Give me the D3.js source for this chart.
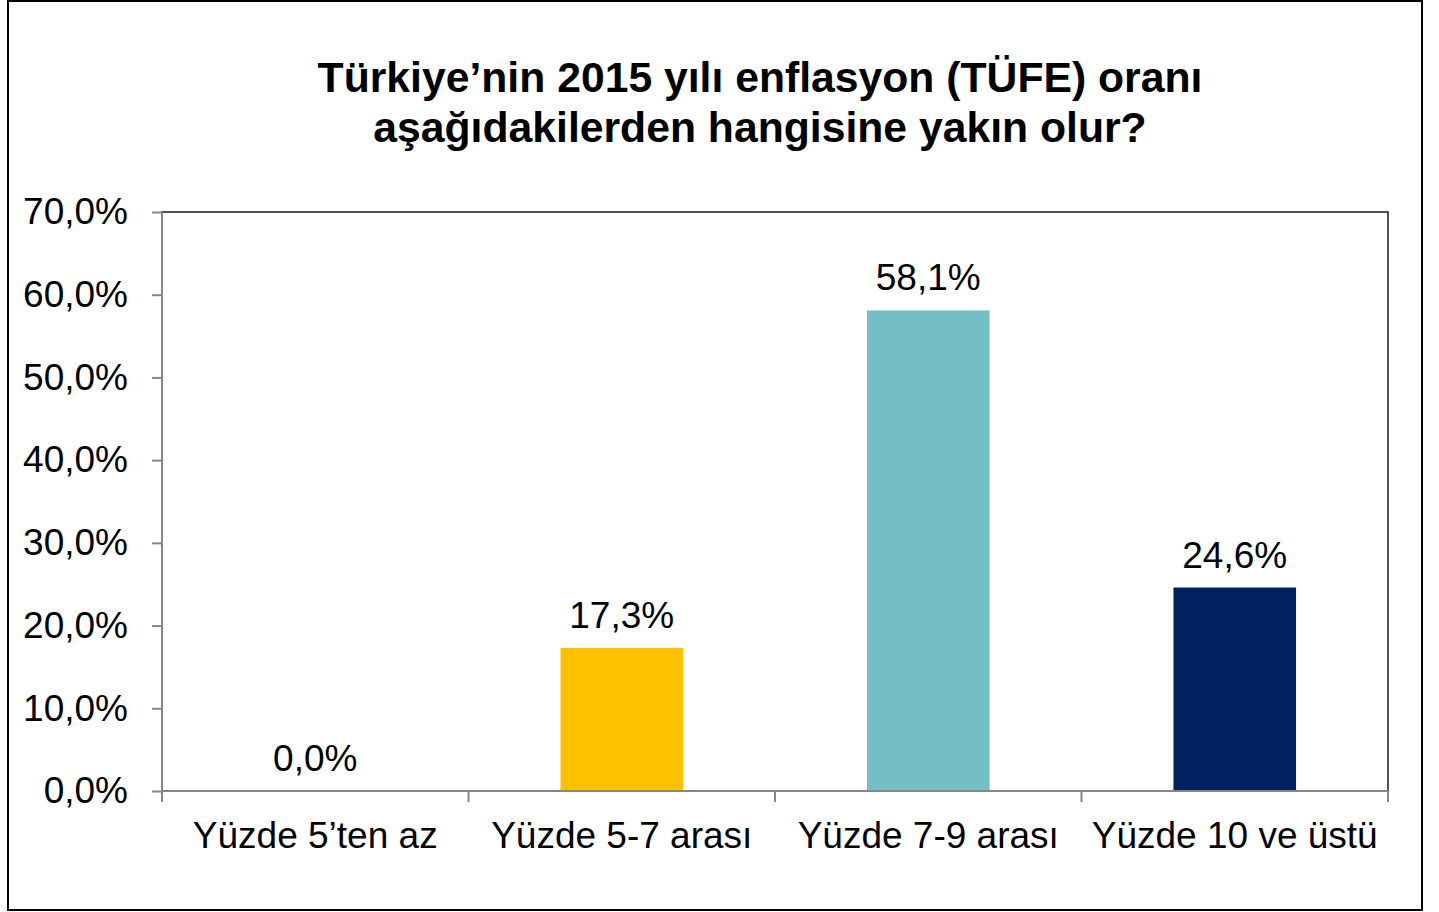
<!DOCTYPE html>
<html>
<head>
<meta charset="utf-8">
<script src="https://cdn.jsdelivr.net/npm/d3@7"></script>
<style>
  body { margin: 0; background: #fff; }
  svg { display: block; font-family: "Liberation Sans", Arial, sans-serif; }
</style>
</head>
<body>
<div id="chart"></div>
<script>
// data
var titleLines = ["Türkiye’nin 2015 yılı enflasyon (TÜFE) oranı", "aşağıdakilerden hangisine yakın olur?"];
var categories = ["Yüzde 5’ten az", "Yüzde 5-7 arası", "Yüzde 7-9 arası", "Yüzde 10 ve üstü"];
var values = [0.0, 17.3, 58.1, 24.6];
var barColors = ["#4472C4", "#FFC000", "#73BFC5", "#002060"];
var yTicks = [0, 10, 20, 30, 40, 50, 60, 70];

var W = 1439, H = 912;
// plot area
var margin = {top: 212, right: 51, bottom: 121, left: 162};
var width = W - margin.left - margin.right,
    height = H - margin.top - margin.bottom;

var fmt = function(v) { return v.toFixed(1).replace(".", ",") + "%"; };

var svg = d3.select("#chart").append("svg")
  .attr("width", W)
  .attr("height", H);

// outer chart border
svg.append("rect")
  .attr("x", 8).attr("y", 1)
  .attr("width", 1414).attr("height", 909)
  .attr("fill", "none")
  .attr("stroke", "#000")
  .attr("stroke-width", 2);

// title
svg.append("text")
  .attr("x", 760)
  .attr("y", 92)
  .attr("text-anchor", "middle")
  .attr("font-weight", "bold")
  .attr("font-size", "42.7px")
  .selectAll("tspan")
  .data(titleLines)
  .enter().append("tspan")
  .attr("x", 760)
  .attr("dy", function(d, i) { return i ? 50 : 0; })
  .text(function(d) { return d; });

var g = svg.append("g")
  .attr("transform", "translate(" + margin.left + "," + margin.top + ")");

var x = d3.scaleBand().domain(categories).range([0, width]).padding(0);
var y = d3.scaleLinear().domain([0, 70]).range([height, 0]);

// plot area border
g.append("rect")
  .attr("width", width)
  .attr("height", height)
  .attr("fill", "none")
  .attr("stroke", "#1a1a1a")
  .attr("stroke-width", 1.5);

// bars (gap width 150%)
var barW = x.bandwidth() * 0.4;
g.selectAll(".bar")
  .data(values)
  .enter().append("rect")
  .attr("class", "bar")
  .attr("x", function(d, i) { return x(categories[i]) + (x.bandwidth() - barW) / 2; })
  .attr("y", function(d) { return y(d); })
  .attr("width", barW)
  .attr("height", function(d) { return height - y(d); })
  .attr("fill", function(d, i) { return barColors[i]; });

// data labels
g.selectAll(".lbl")
  .data(values)
  .enter().append("text")
  .attr("class", "lbl")
  .attr("x", function(d, i) { return x(categories[i]) + x.bandwidth() / 2; })
  .attr("y", function(d) { return y(d) - 20; })
  .attr("text-anchor", "middle")
  .attr("font-size", "37px")
  .attr("fill", "#000")
  .text(fmt);

// y axis
var yAxis = g.append("g")
  .call(d3.axisLeft(y).tickValues(yTicks).tickSize(10).tickPadding(24).tickFormat(fmt));
yAxis.selectAll("text").attr("font-size", "37px").attr("fill", "#000")
  .attr("font-family", "Liberation Sans, Arial, sans-serif");
yAxis.selectAll("line").attr("stroke", "#868686").attr("stroke-width", 2);
yAxis.select(".domain").attr("stroke", "#868686").attr("stroke-width", 2)
  .attr("d", "M0," + height + "V0");

// x axis with ticks on category boundaries
var xAxis = g.append("g")
  .attr("transform", "translate(0," + height + ")");
xAxis.append("line")
  .attr("x1", 0).attr("x2", width)
  .attr("stroke", "#868686").attr("stroke-width", 2);
var bounds = categories.map(function(c) { return x(c); }).concat([width]);
xAxis.selectAll(".tk")
  .data(bounds)
  .enter().append("line")
  .attr("class", "tk")
  .attr("x1", function(d) { return d; })
  .attr("x2", function(d) { return d; })
  .attr("y1", 0).attr("y2", 11)
  .attr("stroke", "#868686").attr("stroke-width", 2);
xAxis.selectAll(".cat")
  .data(categories)
  .enter().append("text")
  .attr("class", "cat")
  .attr("x", function(d) { return x(d) + x.bandwidth() / 2; })
  .attr("y", 57)
  .attr("text-anchor", "middle")
  .attr("font-size", "37px")
  .attr("fill", "#000")
  .text(function(d) { return d; });
</script>
</body>
</html>
